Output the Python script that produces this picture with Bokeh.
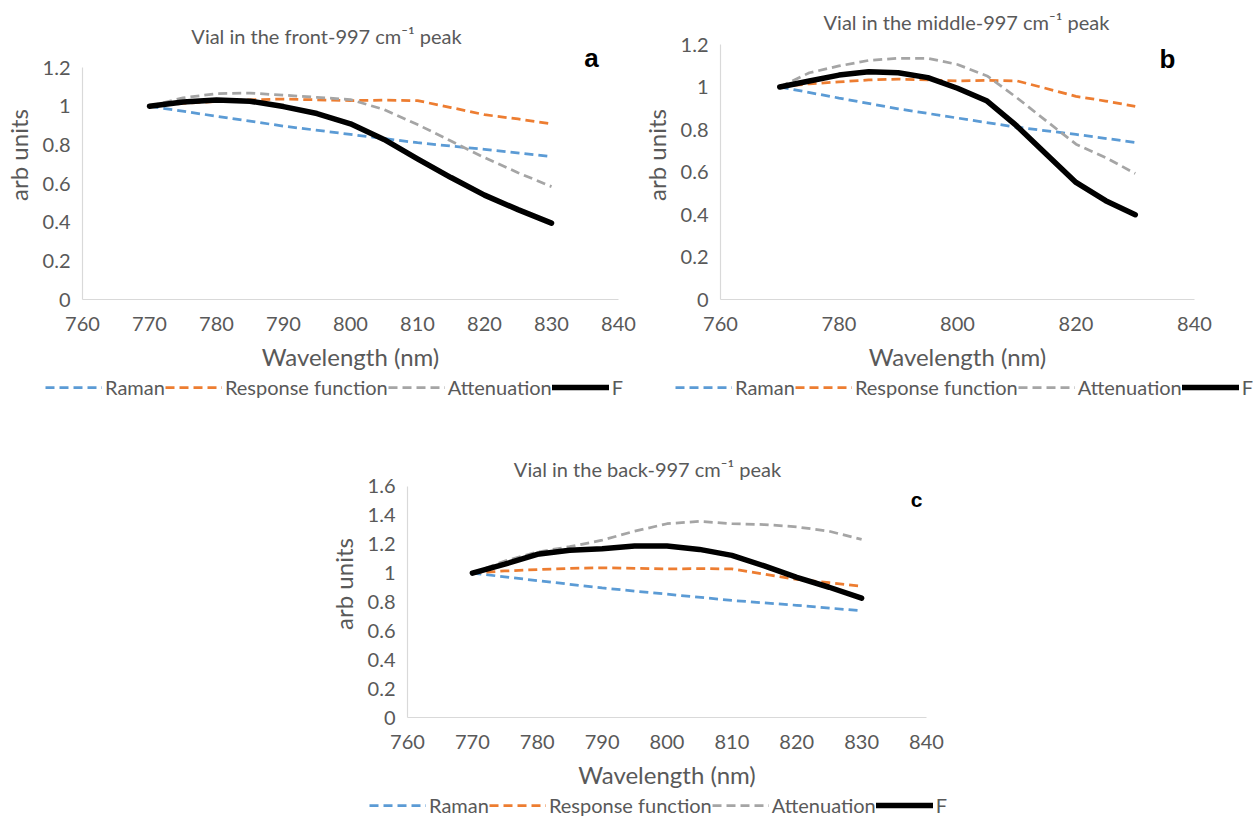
from bokeh.plotting import figure
from bokeh.models import Range1d, Label, Legend, LegendItem, Spacer
from bokeh.layouts import row, column
from bokeh.embed import file_html
from bokeh.resources import INLINE

# ---------------- data ----------------
wl10 = [770, 780, 790, 800, 810, 820, 830]
wl5 = [770, 775, 780, 785, 790, 795, 800, 805, 810, 815, 820, 825, 830]

raman = [1.0, 0.948, 0.897, 0.854, 0.811, 0.777, 0.739]
response = [1.0, 1.015, 1.024, 1.033, 1.037, 1.033, 1.029, 1.031, 1.029, 0.993, 0.956, 0.934, 0.909]

atten_a = [1.0, 1.043, 1.065, 1.068, 1.057, 1.046, 1.034, 0.983, 0.905, 0.82, 0.734, 0.656, 0.584]
f_a = [1.0, 1.022, 1.032, 1.026, 0.998, 0.962, 0.909, 0.828, 0.728, 0.631, 0.54, 0.465, 0.395]

atten_b = [1.0, 1.067, 1.099, 1.125, 1.135, 1.135, 1.106, 1.052, 0.95, 0.84, 0.731, 0.668, 0.593]
f_b = [1.0, 1.028, 1.056, 1.072, 1.067, 1.044, 0.994, 0.934, 0.817, 0.684, 0.551, 0.465, 0.399]

atten_c = [1.0, 1.084, 1.146, 1.183, 1.228, 1.29, 1.342, 1.358, 1.342, 1.336, 1.32, 1.29, 1.233]
f_c = [1.0, 1.062, 1.13, 1.158, 1.169, 1.187, 1.187, 1.164, 1.123, 1.05, 0.97, 0.902, 0.826]

series_names = ["Raman", "Response function", "Attenuation", "F"]
titles = ["Vial in the front-997 cm\u207b\u00b9 peak",
          "Vial in the middle-997 cm\u207b\u00b9 peak",
          "Vial in the back-997 cm\u207b\u00b9 peak"]
panel_letters = ["a", "b", "c"]

xticks_fine = [760, 770, 780, 790, 800, 810, 820, 830, 840]
xticks_coarse = [760, 780, 800, 820, 840]
yticks_12 = [0, 0.2, 0.4, 0.6, 0.8, 1.0, 1.2]
ylabels_12 = ["0", "0.2", "0.4", "0.6", "0.8", "1", "1.2"]
yticks_16 = [0, 0.2, 0.4, 0.6, 0.8, 1.0, 1.2, 1.4, 1.6]
ylabels_16 = ["0", "0.2", "0.4", "0.6", "0.8", "1", "1.2", "1.4", "1.6"]

# ---------------- style ----------------
FONT = "Lato"
GREY_TXT = "#595959"
AX_COL = "#D9D9D9"
COLORS = ["#5B9BD5", "#ED7D31", "#A5A5A5", "#000000"]
DASH = "9 5"


def style_line(i):
    if i == 3:
        return dict(line_color=COLORS[3], line_width=5.5, line_cap="round", line_join="round")
    return dict(line_color=COLORS[i], line_width=2.75, line_dash=DASH)


def make_panel(atten, fvals, ymax, xticks, yticks, ylabels, title, letter,
               fw, frame_top, axis_y, px_per_unit, mleft, mright, mtop, mbottom,
               title_px, letter_px, letter_size):
    fh = axis_y - frame_top
    ytop = fh / px_per_unit
    px_per_nm = fw / 80.0

    def dx(px):
        return 760 + px / px_per_nm

    def dy(py):
        return (axis_y - py) / px_per_unit

    p = figure(output_backend="svg", toolbar_location=None,
               frame_width=fw, frame_height=fh,
               min_border_left=mleft, min_border_right=mright,
               min_border_top=mtop, min_border_bottom=mbottom,
               x_range=Range1d(760, 840), y_range=Range1d(0, ytop))
    p.outline_line_color = None
    p.background_fill_color = "white"
    p.border_fill_color = "white"
    p.grid.visible = False

    for ax in (p.xaxis[0], p.yaxis[0]):
        ax.axis_line_color = AX_COL
        ax.axis_line_width = 1.2
        ax.major_tick_line_color = None
        ax.minor_tick_line_color = None
        ax.major_label_text_font = FONT
        ax.major_label_text_font_size = "20px"
        ax.major_label_text_color = GREY_TXT
        ax.axis_label_text_font = FONT
        ax.axis_label_text_font_size = "24px"
        ax.axis_label_text_font_style = "normal"
        ax.axis_label_text_color = GREY_TXT

    p.xaxis.ticker = xticks
    p.xaxis.bounds = (760, 840)
    p.xaxis.axis_label = "Wavelength (nm)"
    p.xaxis.major_label_standoff = 11
    p.xaxis.axis_label_standoff = 8
    p.yaxis.ticker = yticks
    p.yaxis.bounds = (0, ymax)
    p.yaxis.major_label_overrides = {t: s for t, s in zip(yticks, ylabels)}
    p.yaxis.axis_label = "arb units"
    p.yaxis.major_label_standoff = 6
    p.yaxis.axis_label_standoff = 7

    p.line(wl10, raman, **style_line(0))
    p.line(wl5, response, **style_line(1))
    p.line(wl5, atten, **style_line(2))
    p.line(wl5, fvals, **style_line(3))

    p.add_layout(Label(x=dx(title_px[0]), y=dy(title_px[1]), text=title,
                       text_font=FONT, text_font_size="20px", text_color=GREY_TXT,
                       text_align="center", text_baseline="middle"))
    p.add_layout(Label(x=dx(letter_px[0]), y=dy(letter_px[1]), text=letter,
                       text_font="Liberation Sans", text_font_size=letter_size,
                       text_font_style="bold", text_color="black",
                       text_align="center", text_baseline="middle"))
    return p


def make_legend_strip(width, height, x0, atten, fvals):
    # the series are drawn again here but outside the visible range, only
    # so that the legend (which lives in its own strip) has renderers
    lp = figure(output_backend="svg", toolbar_location=None,
                width=width, height=height, min_border=0,
                x_axis_location=None, y_axis_location=None,
                x_range=Range1d(0, 1), y_range=Range1d(0, 1))
    lp.outline_line_color = None
    lp.grid.visible = False
    rs = [lp.line(wl10, raman, **style_line(0)),
          lp.line(wl5, response, **style_line(1)),
          lp.line(wl5, atten, **style_line(2)),
          lp.line(wl5, fvals, **style_line(3))]
    items = [LegendItem(label=n, renderers=[r]) for n, r in zip(series_names, rs)]
    leg = Legend(items=items, orientation="horizontal", location=(x0, 4),
                 glyph_width=57, glyph_height=20, label_standoff=3, spacing=0,
                 padding=0, margin=0, border_line_color=None,
                 background_fill_alpha=0,
                 label_text_font=FONT, label_text_font_size="20px",
                 label_text_color=GREY_TXT)
    lp.add_layout(leg)
    return lp


pa = make_panel(atten_a, f_a, 1.2, xticks_fine, yticks_12, ylabels_12, titles[0], panel_letters[0],
                fw=536, frame_top=10, axis_y=299, px_per_unit=193.3,
                mleft=81, mright=20, mtop=10, mbottom=74,
                title_px=(244, 35), letter_px=(509, 57), letter_size="26px")
pb = make_panel(atten_b, f_b, 1.2, xticks_coarse, yticks_12, ylabels_12, titles[1], panel_letters[1],
                fw=474, frame_top=10, axis_y=299, px_per_unit=212.5,
                mleft=81, mright=40, mtop=10, mbottom=74,
                title_px=(246, 21), letter_px=(447, 58), letter_size="26px")
pc = make_panel(atten_c, f_c, 1.6, xticks_fine, yticks_16, ylabels_16, titles[2], panel_letters[2],
                fw=519, frame_top=450, axis_y=717, px_per_unit=144.4,
                mleft=81, mright=40, mtop=47, mbottom=70,
                title_px=(240, 468), letter_px=(509, 499), letter_size="21px")

la = make_legend_strip(639, 30, 45, atten_a, f_a)
lb = make_legend_strip(614, 30, 36, atten_b, f_b)
lc = make_legend_strip(640, 30, 44, atten_c, f_c)

layout = column(row(pa, pb), row(la, lb),
                row(Spacer(width=325, height=10), pc),
                row(Spacer(width=325, height=10), lc))

open("out.html", "w").write(file_html(layout, INLINE))
